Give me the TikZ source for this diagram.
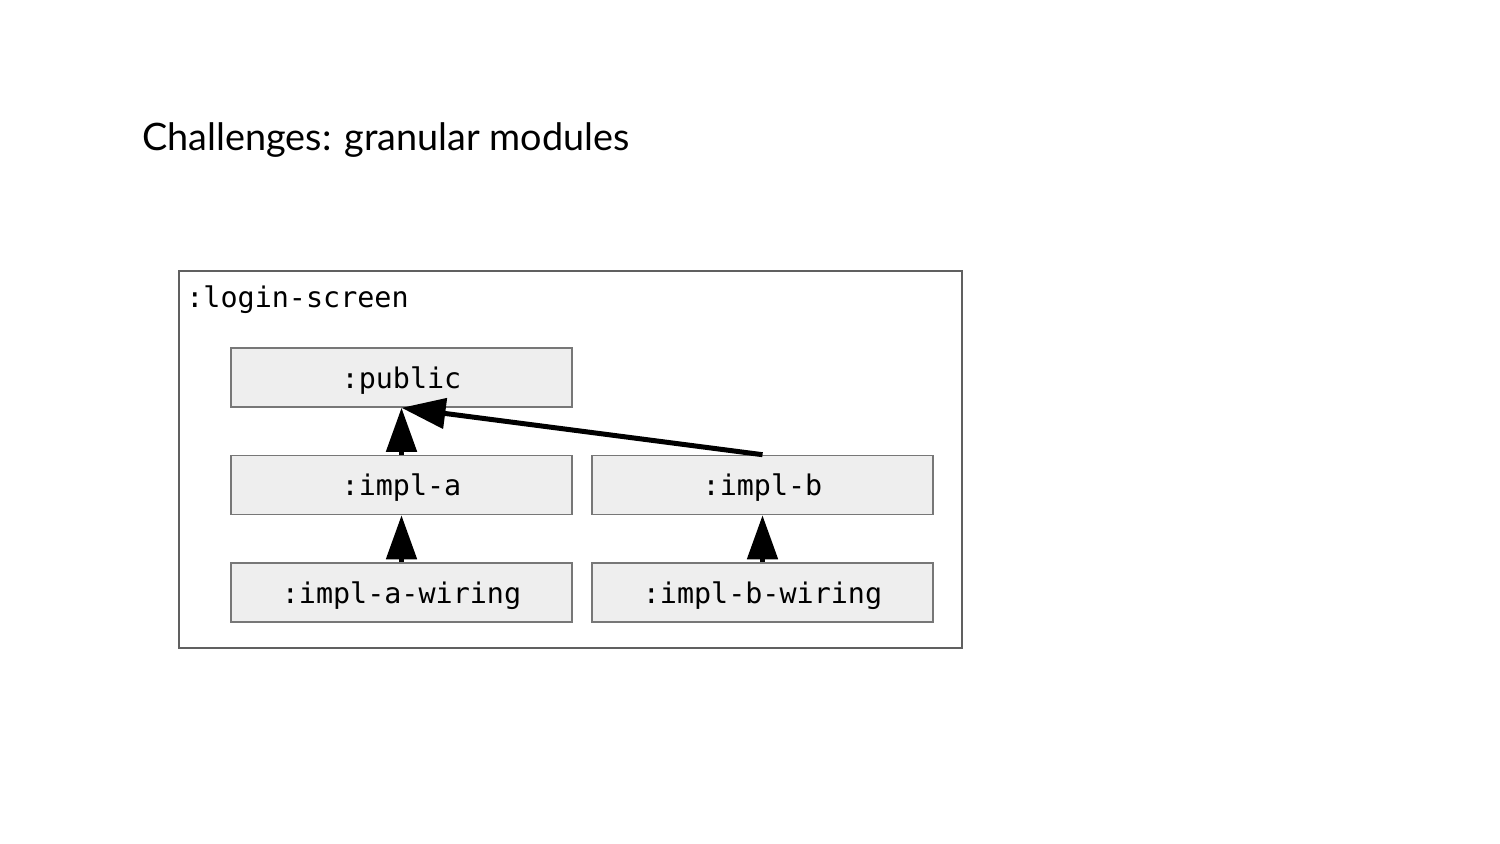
\documentclass[tikz,border=0pt]{standalone}
\usepackage{fontspec}
\setmainfont{Lato}
\setmonofont{DejaVu Sans Mono}
\usetikzlibrary{arrows.meta}
\definecolor{boxfill}{HTML}{EEEEEE}
\definecolor{boxline}{HTML}{777777}
\definecolor{outerline}{HTML}{606060}
\tikzset{
  monotext/.style={font=\ttfamily\fontsize{14.2pt}{16pt}\selectfont, text=black},
  modbox/.style={monotext, draw=boxline, line width=0.8pt, fill=boxfill, minimum width=170.5pt, minimum height=29.5pt, inner sep=0pt, text height=12pt, text depth=1pt},
  deparrow/.style={line width=2.5pt, -{Triangle[length=22pt,width=15pt]}}
}
\begin{document}
\begin{tikzpicture}[x=0.5pt,y=-0.5pt]
\useasboundingbox[fill=white] (0,0) rectangle (1500,844);
\node[anchor=west, inner sep=0pt, font=\fontsize{18.9pt}{22pt}\selectfont] (title) at (142,140) {Challenges: granular modules};
\node[draw=outerline, line width=0.8pt, minimum width=391.5pt, minimum height=188.5pt, inner sep=0pt] (outer) at (570.5,459.5) {};
\node[monotext, anchor=west, inner sep=0pt] (lbl) at (186,300) {:login-screen};
\node[modbox] (pub) at (401.5,377.5) {:public};
\node[modbox] (ia) at (401.5,485) {:impl-a};
\node[modbox] (ib) at (762.5,485) {:impl-b};
\node[modbox] (iaw) at (401.5,592.5) {:impl-a-wiring};
\node[modbox] (ibw) at (762.5,592.5) {:impl-b-wiring};
\draw[deparrow] (ia.north) -- (pub.south);
\draw[deparrow] (ib.north) -- (pub.south);
\draw[deparrow] (iaw.north) -- (ia.south);
\draw[deparrow] (ibw.north) -- (ib.south);
\end{tikzpicture}
\end{document}
